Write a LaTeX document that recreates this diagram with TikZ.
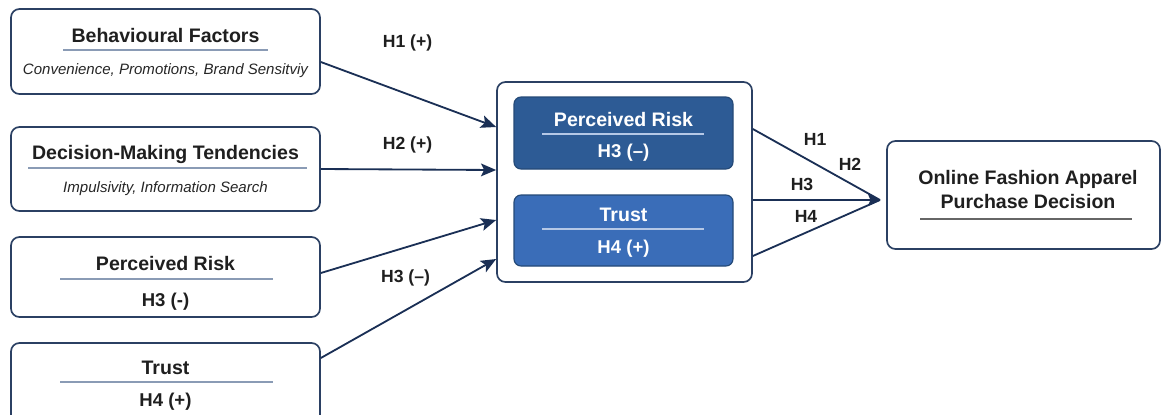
\documentclass[tikz,border=0pt]{standalone}
\usepackage{fontspec}
\setmainfont{Liberation Sans}
\usepackage{xcolor}
\usetikzlibrary{arrows.meta,positioning}
\definecolor{boxline}{HTML}{2B4063}
\definecolor{arrowc}{HTML}{1A2F55}
\definecolor{rulec}{HTML}{8A9BB5}
\definecolor{riskblue}{HTML}{2D5B95}
\definecolor{trustblue}{HTML}{3A6DB8}
\definecolor{rulelight}{HTML}{B5C8E6}
\tikzset{
  card/.style={draw=boxline,line width=1.2pt,rounded corners=6pt,fill=white},
  innerbox/.style={draw=riskblue!80!black,line width=0.8pt,rounded corners=5pt,minimum width=5.475cm},
  ttl/.style={anchor=base,font=\fontsize{13.9}{16.6}\selectfont\bfseries,text=black!88,inner sep=0pt},
  sub/.style={anchor=base,font=\fontsize{10.7}{13}\selectfont\itshape,text=black!85,inner sep=0pt},
  hyp/.style={anchor=base,font=\fontsize{13.2}{16}\selectfont\bfseries,text=black!88,inner sep=0pt},
  lbl/.style={anchor=base,font=\fontsize{12.5}{15}\selectfont\bfseries,text=black!88,inner sep=0pt},
  uline/.style={draw=rulec,line width=0.8pt},
  link/.style={draw=arrowc,line width=1.3pt},
  arr/.style={link,-{Stealth[length=3.8mm,width=3.2mm,inset=0.8mm]}},
}

\begin{document}
\begin{tikzpicture}
\useasboundingbox (0,0) rectangle (29.025,-10.35);
% left column
\node[card,minimum width=7.725cm,minimum height=2.125cm] (bf) at (4.1375,-1.2875) {};
\node[ttl] (bft) at (4.1375,-1.0675) {Behavioural Factors};
\draw[uline] (1.575,-1.25) -- (6.7,-1.25);
\node[sub] (bfs) at (4.1375,-1.85) {Convenience, Promotions, Brand Sensitviy};

\node[card,minimum width=7.725cm,minimum height=2.1cm] (dm) at (4.1375,-4.225) {};
\node[ttl] (dmt) at (4.1375,-3.9825) {Decision-Making Tendencies};
\draw[uline] (0.7,-4.2) -- (7.675,-4.2);
\node[sub] (dms) at (4.1375,-4.8175) {Impulsivity, Information Search};

\node[card,minimum width=7.725cm,minimum height=2cm] (pr) at (4.1375,-6.925) {};
\node[ttl] (prt) at (4.1375,-6.75) {Perceived Risk};
\draw[uline] (1.5,-6.975) -- (6.825,-6.975);
\node[hyp] (prs) at (4.1375,-7.65) {H3 (-)};

\node[card,minimum width=7.725cm,minimum height=2cm] (tr) at (4.1375,-9.575) {};
\node[ttl] (trt) at (4.1375,-9.35) {Trust};
\draw[uline] (1.5,-9.55) -- (6.825,-9.55);
\node[hyp] (trs) at (4.1375,-10.1675) {H4 (+)};

% mediators
\node[card,minimum width=6.375cm,minimum height=5cm] (med) at (15.6125,-4.55) {};
\node[innerbox,fill=riskblue,minimum height=1.8cm] (mpr) at (15.5875,-3.325) {};
\node[ttl,text=white] (mprt) at (15.5875,-3.1675) {Perceived Risk};
\draw[uline,draw=rulelight] (13.55,-3.35) -- (17.6,-3.35);
\node[hyp,text=white] (mprs) at (15.5875,-3.9325) {H3 (--)};
\node[innerbox,fill=trustblue,minimum height=1.775cm] (mtr) at (15.5875,-5.7625) {};
\node[ttl,text=white] (mtrt) at (15.5875,-5.5425) {Trust};
\draw[uline,draw=rulelight] (13.55,-5.725) -- (17.6,-5.725);
\node[hyp,text=white] (mtrs) at (15.5875,-6.3325) {H4 (+)};

% outcome
\node[card,minimum width=6.825cm,minimum height=2.7cm] (opd) at (25.5875,-4.875) {};
\node[ttl,anchor=center,align=center,font=\fontsize{13.9}{16.57}\selectfont\bfseries] (opdt) at (25.7,-4.74) {Online Fashion Apparel\\Purchase Decision};
\draw[uline,draw=black!60] (23.0,-5.475) -- (28.3,-5.475);

% paths into mediators
\draw[arr] ([yshift=-0.2625cm]bf.east) -- ([yshift=1.375cm]med.west);
\draw[arr] (dm.east) -- ([yshift=0.3cm]med.west);
\draw[arr] ([yshift=0.1cm]pr.east) -- ([yshift=-0.95cm]med.west);
\draw[arr] ([yshift=0.625cm]tr.east) -- ([yshift=-1.925cm]med.west);
\node[lbl] (h1) at (10.1875,-1.1825) {H1 (+)};
\node[lbl] (h2) at (10.1875,-3.7325) {H2 (+)};
\node[lbl] (h3) at (10.1375,-7.0675) {H3 (--)};

% paths into outcome
\coordinate (join) at (22.0,-5.0);
\draw[link] ([yshift=1.325cm]med.east) -- (join);
\draw[link] ([yshift=-1.85cm]med.east) -- (join);
\draw[link,-{Stealth[length=3mm,width=3mm,inset=0.6mm]}] ([yshift=-0.45cm]med.east) -- (join);
\node[lbl] (r1) at (20.38,-3.625) {H1};
\node[lbl] (r2) at (21.25,-4.25) {H2};
\node[lbl] (r3) at (20.05,-4.75) {H3};
\node[lbl] (r4) at (20.15,-5.5675) {H4};
\end{tikzpicture}
\end{document}
